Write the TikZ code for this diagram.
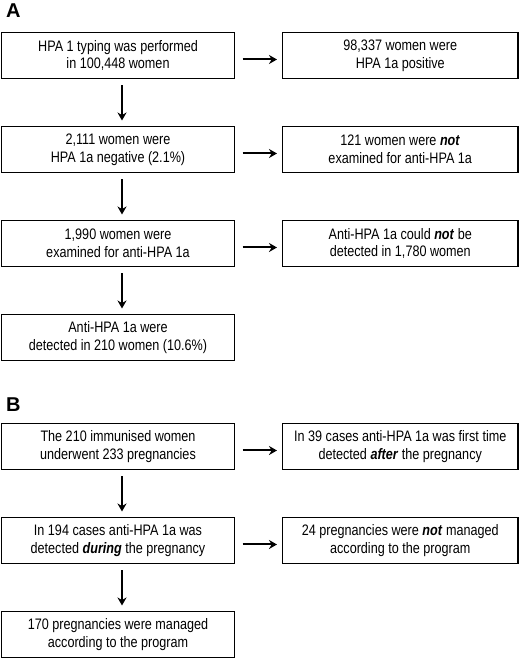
\documentclass[tikz,border=0pt]{standalone}
\usepackage{fontspec}
\setmainfont{Liberation Sans}[FakeStretch=0.83]
\newfontfamily\panelfont{Liberation Sans}
\usetikzlibrary{arrows, arrows.meta, positioning}

\begin{document}
\begin{tikzpicture}[
    node distance=48pt and 48pt,
    lbox/.style={rectangle, draw, line width=1.5pt, minimum width=233pt, minimum height=46pt, inner sep=0pt, outer sep=0pt, align=center, font=\fontsize{15.2}{17.7}\selectfont},
    rbox/.style={lbox, minimum width=235.5pt},
    panel/.style={font=\panelfont\fontsize{20}{20}\selectfont\bfseries, anchor=base west, inner sep=0pt},
    arrow/.style={-{Stealth[length=8pt,width=9pt]}, line width=2pt}
]
\useasboundingbox (0,0) rectangle (520pt,660pt);

% Panel A
\node[panel] (labA) at (6pt,642pt) {A};
\node[lbox] (typed) at (118pt,604.5pt) {HPA 1 typing was performed\\in 100,448 women};
\node[rbox, right=of typed] (pos) {98,337 women were\\HPA 1a positive};

\node[lbox, below=of typed] (neg) {2,111 women were\\HPA 1a negative (2.1\%)};
\node[rbox, right=of neg] (notexam) {121 women were \textbf{\textit{not}}\\examined for anti-HPA 1a};

\node[lbox, below=of neg] (exam) {1,990 women were\\examined for anti-HPA 1a};
\node[rbox, right=of exam] (notdet) {Anti-HPA 1a could \textbf{\textit{not}} be\\detected in 1,780 women};

\node[lbox, below=of exam] (det) {Anti-HPA 1a were\\detected in 210 women (10.6\%)};

% Panel B
\node[panel] (labB) at (6pt,248pt) {B};
\node[lbox, below=63pt of det] (preg) {The 210 immunised women\\underwent 233 pregnancies};
\node[rbox, right=of preg] (after) {In 39 cases anti-HPA 1a was first time\\detected \textbf{\textit{after}} the pregnancy};

\node[lbox, below=of preg] (during) {In 194 cases anti-HPA 1a was\\detected \textbf{\textit{during}} the pregnancy};
\node[rbox, right=of during] (notman) {24 pregnancies were \textbf{\textit{not}} managed\\according to the program};

\node[lbox, below=of during] (man) {170 pregnancies were managed\\according to the program};

% Arrows
\foreach \a/\b in {typed/pos, neg/notexam, exam/notdet, preg/after, during/notman}
  \draw[arrow] ([xshift=8pt,yshift=-4pt]\a.east) -- ([xshift=-5.5pt,yshift=-4pt]\b.west);
\foreach \a/\b in {typed/neg, neg/exam, exam/det, preg/during, during/man}
  \draw[arrow] ([xshift=4pt,yshift=-7pt]\a.south) -- ([xshift=4pt,yshift=6pt]\b.north);

\end{tikzpicture}
\end{document}
